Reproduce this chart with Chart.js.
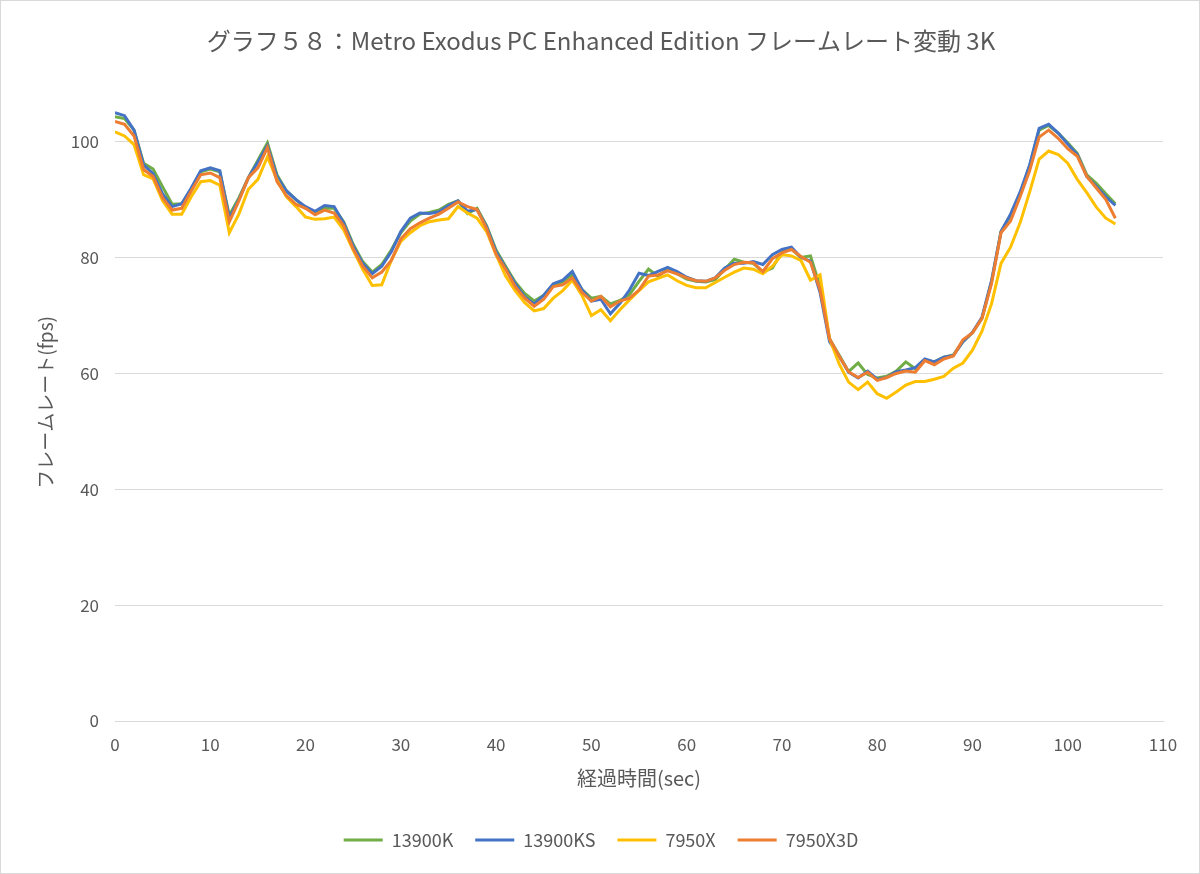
<!DOCTYPE html>
<html>
<head>
<meta charset="utf-8">
<script src="https://cdn.jsdelivr.net/npm/chart.js@4"></script>
<style>
  body { margin: 0; background: #fff; }
  #wrap { width: 1200px; height: 874px; box-sizing: border-box; border: 1px solid #d9d9d9; }
</style>
</head>
<body>
<div id="wrap"><canvas id="fpsChart" width="1198" height="872"></canvas></div>
<script>
// elapsed seconds (x)
const seconds = Array.from({ length: 106 }, (_, i) => i);

const fps13900K = [104.3, 104, 102, 96.3, 95.3, 92.2, 89.2, 89.3, 91.8, 94.8,
  95.3, 94.8, 87.3, 90.3, 93.8, 96.8, 99.8, 94.3, 91.5, 90,
  88.5, 87.8, 88.5, 88.5, 86.2, 82.3, 79.3, 77.5, 78.8, 81.3,
  84.3, 86.3, 87.5, 87.8, 88.2, 89.2, 89.8, 87.6, 88.5, 85.5,
  81.3, 78.5, 75.8, 73.8, 72.5, 73.5, 75.3, 75.8, 77, 74.5,
  73, 73.3, 72, 72.6, 73.6, 75.9, 78, 76.8, 78, 77.2,
  76.3, 75.9, 75.8, 76.2, 78, 79.7, 79.2, 79, 77.5, 78.2,
  81, 81.5, 80, 80.3, 75, 66, 63.2, 60.3, 61.8, 59.8,
  59.2, 59.5, 60.4, 62, 60.8, 62.3, 62, 62.8, 63.2, 65.5,
  67, 69.5, 75.8, 84.5, 87.3, 91, 95.8, 102, 102.8, 101.5,
  99.8, 98, 94.3, 92.8, 91, 89.3];

const fps13900KS = [105, 104.5, 102, 96, 94.5, 91, 88.8, 89.3, 92, 95,
  95.5, 95, 86.8, 90, 93.8, 96.5, 99.3, 94, 91.5, 90,
  88.8, 88, 89, 88.8, 86, 82, 79, 77.2, 78.5, 81,
  84.5, 86.8, 87.7, 87.6, 87.9, 89, 89.8, 88, 88.3, 85.3,
  81, 78.2, 75.5, 73.2, 72, 73.5, 75.5, 76.1, 77.6, 74.5,
  72.5, 72.8, 70.3, 72.1, 74.4, 77.3, 76.9, 77.6, 78.3, 77.6,
  76.6, 76, 75.9, 76.5, 78.2, 79, 79, 79.3, 78.8, 80.5,
  81.4, 81.8, 80, 79.4, 74, 65.5, 63, 60.2, 59.2, 60.4,
  59, 59.3, 60.3, 60.6, 61, 62.5, 62, 62.8, 63.1, 65.5,
  67.1, 69.7, 76, 84.5, 87.5, 91.3, 96, 102.3, 103, 101.5,
  99.6, 97.8, 94, 92.3, 90.5, 89];

const fps7950X = [101.7, 101, 99.5, 94.3, 93.6, 89.8, 87.5, 87.5, 90.5, 93.1,
  93.3, 92.5, 84.3, 87.5, 91.8, 93.5, 97.4, 93.4, 90.5, 88.8,
  87, 86.6, 86.7, 87, 84.8, 81.3, 78, 75.2, 75.3, 79.5,
  82.8, 84.3, 85.5, 86.2, 86.5, 86.7, 88.8, 87.7, 86.8, 84.5,
  80.5, 76.8, 74.3, 72.2, 70.8, 71.2, 73, 74.3, 76.1, 73.5,
  70, 71, 69.1, 71, 72.7, 74.3, 75.8, 76.4, 77, 76,
  75.2, 74.8, 74.8, 75.7, 76.6, 77.5, 78.2, 78, 77.2, 78.5,
  80.5, 80.3, 79.5, 76.1, 77, 66, 61.7, 58.5, 57.2, 58.5,
  56.5, 55.7, 56.8, 58, 58.6, 58.6, 59, 59.5, 60.9, 61.8,
  64, 67.3, 72, 79, 81.8, 86, 91.3, 97, 98.4, 97.8,
  96.3, 93.5, 91.2, 88.7, 86.8, 85.8];

const fps7950X3D = [103.5, 103, 101, 95.2, 94, 90.3, 88.2, 88.5, 91.5, 94.3,
  94.6, 93.8, 86.2, 89.8, 93.8, 95.5, 99, 93.1, 90.7, 89.2,
  88.5, 87.4, 88.2, 87.7, 85.5, 81.5, 78.5, 76.5, 77.5, 79.5,
  83.2, 85, 86, 86.8, 87.5, 88.5, 89.6, 88.8, 88.3, 85,
  80.5, 78, 75, 73, 71.6, 72.8, 75, 75.3, 76.5, 74,
  72.5, 73.3, 71.5, 72.5, 73, 74.4, 76.8, 77, 77.7, 77.2,
  76.5, 76, 75.9, 76.5, 77.8, 78.8, 79.2, 79.1, 77.6, 79.8,
  80.8, 81.4, 80.2, 79.2, 74.5, 66, 63, 60.3, 59.3, 60.2,
  58.8, 59.3, 60, 60.4, 60.2, 62.2, 61.5, 62.5, 63, 65.8,
  67, 69.5, 75.5, 84.3, 86.3, 90.5, 95, 100.8, 102, 100.6,
  98.8, 97.5, 94, 92, 90, 86.8];

const seriesNames = ["13900K", "13900KS", "7950X", "7950X3D"];
const seriesColors = ["#70ad47", "#4472c4", "#ffc000", "#ed7d31"];
const seriesValues = [fps13900K, fps13900KS, fps7950X, fps7950X3D];

const textColor = "#595959";
const gridColor = "#d9d9d9";
const jpFont = "'Noto Sans CJK JP', 'Noto Sans', sans-serif";

const ctx = document.getElementById("fpsChart").getContext("2d");
new Chart(ctx, {
  type: "line",
  data: {
    datasets: seriesNames.map((name, i) => ({
      label: name,
      data: seconds.map((s, j) => ({ x: s, y: seriesValues[i][j] })),
      borderColor: seriesColors[i],
      backgroundColor: seriesColors[i],
      borderWidth: 3,
      pointRadius: 0,
      tension: 0,
      order: seriesNames.length - i   // excel draws later series on top
    }))
  },
  options: {
    responsive: false,
    animation: false,
    layout: { padding: { left: 38, right: 36, top: 0, bottom: 14 } },
    plugins: {
      title: {
        display: true,
        text: "グラフ５８：Metro Exodus PC Enhanced Edition フレームレート変動 3K",
        color: textColor,
        font: { family: jpFont, size: 24, weight: "normal" },
        padding: { top: 25, bottom: 29 }
      },
      legend: {
        position: "bottom",
        labels: {
          color: textColor,
          font: { family: jpFont, size: 18 },
          usePointStyle: true,
          pointStyle: "line",
          pointStyleWidth: 39,
          boxHeight: 18,
          padding: 22,
          sort: (a, b) => a.datasetIndex - b.datasetIndex
        }
      },
      tooltip: { enabled: false }
    },
    scales: {
      x: {
        type: "linear",
        min: 0,
        max: 110,
        ticks: { stepSize: 10, color: textColor, font: { family: jpFont, size: 17 }, padding: 13, maxRotation: 0 },
        grid: { display: false, drawTicks: false },
        border: { display: true, color: gridColor },
        title: {
          display: true,
          text: "経過時間(sec)",
          color: textColor,
          font: { family: jpFont, size: 20 },
          padding: { top: 0, bottom: 19 }
        },
        afterFit: (scale) => { scale.height = 88; }
      },
      y: {
        min: 0,
        max: 110,
        ticks: { stepSize: 20, includeBounds: false, color: textColor, font: { family: jpFont, size: 17 }, padding: 16 },
        grid: { color: gridColor, drawTicks: false },
        border: { display: false },
        title: {
          display: true,
          text: "フレームレート(fps)",
          color: textColor,
          font: { family: jpFont, size: 19 },
          padding: { top: -5, bottom: 0 }
        },
        afterFit: (scale) => { scale.width = 76; }
      }
    }
  }
});
</script>
</body>
</html>
